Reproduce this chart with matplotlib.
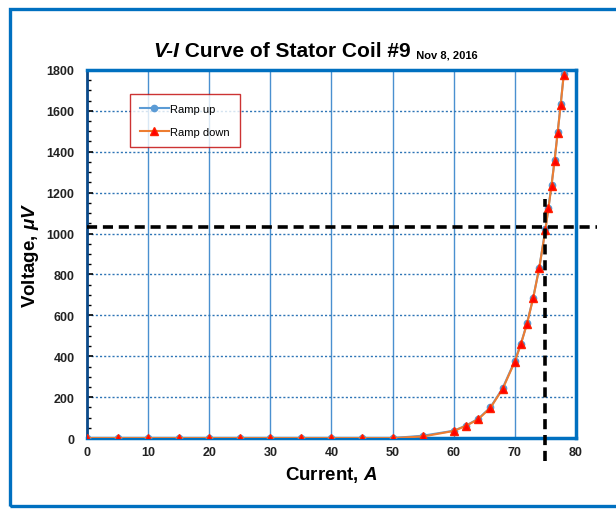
import numpy as np
import matplotlib.pyplot as plt
from matplotlib.patches import Rectangle

plt.rcParams['font.family'] = ['Liberation Sans', 'DejaVu Sans']
plt.rcParams['mathtext.fontset'] = 'custom'
plt.rcParams['mathtext.it'] = 'Liberation Sans:italic:bold'
plt.rcParams['mathtext.rm'] = 'Liberation Sans:bold'

# current (A) and measured voltage (uV)
current = [0, 5, 10, 15, 20, 25, 30, 35, 40, 45, 50, 55, 60, 62, 64, 66, 68,
           70, 71, 72, 73, 74, 75, 75.5, 76, 76.5, 77, 77.5, 78]
ramp_up = [0, 0, 0, 0, 0, 0, 0, 0, 0, 0, 0, 12, 36, 61, 94, 150, 244,
           378, 462, 562, 686, 834, 1020, 1126, 1238, 1358, 1494, 1632, 1778]
ramp_down = [0, 0, 0, 0, 0, 0, 0, 0, 0, 0, 0, 8, 35, 60, 92, 148, 240,
             374, 460, 560, 684, 832, 1018, 1124, 1234, 1356, 1492, 1630, 1776]

# operating point marked with dashed lines
op_current = 75
op_voltage = 1030

fig = plt.figure(figsize=(6.16, 5.1), dpi=100)
ax = fig.add_axes([0.1412, 0.139, 0.7938, 0.722])

# outer frame
fig.patches.append(Rectangle((10/616, 3/510), 1.0, 497/510, transform=fig.transFigure,
                             fill=False, ec='#0070C0', lw=2.4))

ax.plot(current, ramp_up, color='#5B9BD5', lw=1.5, marker='o', ms=4.5,
        mfc='#5B9BD5', mec='#5B9BD5', label='Ramp up', zorder=3)
ax.plot(current, ramp_down, color='#ED7D31', lw=1.5, marker='^', ms=5.5,
        mfc='#FF0000', mec='#FF2000', label='Ramp down', zorder=4)

ax.plot([0, 83.5], [op_voltage, op_voltage], color='black', lw=2.6,
        dashes=(2.8, 1.6), clip_on=False, zorder=5)
ax.plot([op_current, op_current], [-110, 1170], color='black', lw=2.6,
        dashes=(2.8, 1.6), clip_on=False, zorder=5)

ax.set_xlim(0, 80)
ax.set_ylim(0, 1800)
ax.set_xticks(np.arange(0, 81, 10))
ax.set_yticks(np.arange(0, 1801, 200))
ax.set_yticks(np.arange(0, 1801, 50), minor=True)

ax.xaxis.grid(True, color='#4A90D0', lw=1)
ax.yaxis.grid(True, color='#2E75B6', lw=1, ls=(0, (1.5, 1.5)))
ax.set_axisbelow(True)

for side in ['top', 'right', 'bottom']:
    ax.spines[side].set_color('#0070C0')
    ax.spines[side].set_linewidth(2.5)
ax.spines['left'].set_color('#0B4A8A')
ax.spines['left'].set_linewidth(2)

ax.tick_params(axis='x', length=0, pad=6, labelsize=9, labelcolor='#222222')
ax.tick_params(axis='y', which='major', direction='in', length=4, width=1.2,
               color='black', pad=9, labelsize=9, labelcolor='#222222')
ax.tick_params(axis='y', which='minor', direction='in', length=3, width=1,
               color='black')
for lab in ax.get_xticklabels() + ax.get_yticklabels():
    lab.set_fontweight('bold')

ax.set_xlabel('Current, $\\mathit{A}$', fontsize=13.5, fontweight='bold', labelpad=4)
ax.set_ylabel('Voltage, $\\mathit{\\mu V}$', fontsize=13.5, fontweight='bold', labelpad=4)

# title in pieces: italic V-I, bold text, small date
t1 = fig.text(153/616, 1 - 57/510, 'V-I', fontsize=15, fontweight='bold',
              fontstyle='italic', va='baseline')
t2 = ax.annotate(' Curve of Stator Coil #9', xy=(1, 0), xycoords=t1,
                 fontsize=15, fontweight='bold', va='bottom')
t3 = ax.annotate('  Nov 8, 2016', xy=(1, 0), xycoords=t2,
                 fontsize=8, fontweight='bold', va='bottom',
                 annotation_clip=False)

leg = ax.legend(loc='upper left', bbox_to_anchor=(0.088, 0.935), fontsize=8,
                frameon=True, fancybox=False, borderpad=0.9, labelspacing=1.2,
                handlelength=2.6, handletextpad=0.1, borderaxespad=0)
leg.get_frame().set_edgecolor('#C00000')
leg.get_frame().set_linewidth(1)

fig.savefig('out.png', dpi=100)
